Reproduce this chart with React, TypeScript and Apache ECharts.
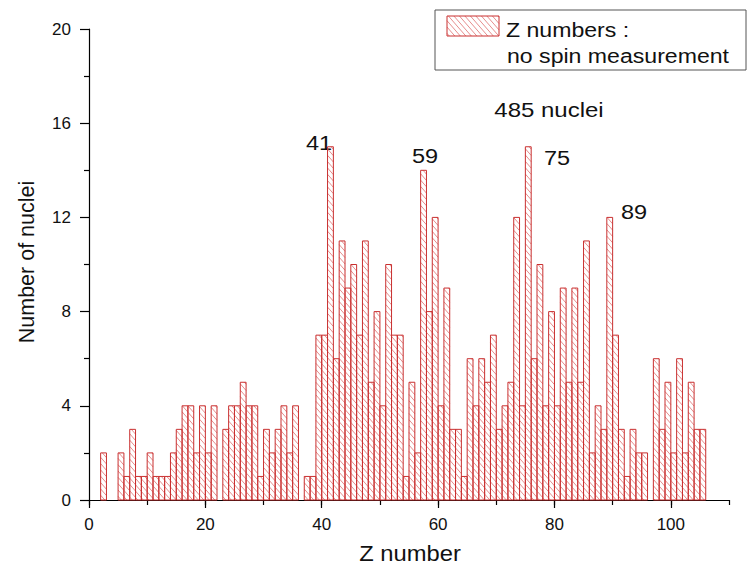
import React, { useEffect, useRef } from 'react';
import * as echarts from 'echarts';

// Z numbers (bin [Z, Z+1)) and the count of nuclei for each
const zNumbers = [
  2, 3, 4, 5, 6, 7, 8, 9, 10, 11, 12, 13, 14, 15, 16, 17, 18, 19, 20, 21,
  22, 23, 24, 25, 26, 27, 28, 29, 30, 31, 32, 33, 34, 35, 36, 37, 38, 39, 40,
  41, 42, 43, 44, 45, 46, 47, 48, 49, 50, 51, 52, 53, 54, 55, 56, 57, 58, 59, 60,
  61, 62, 63, 64, 65, 66, 67, 68, 69, 70, 71, 72, 73, 74, 75, 76, 77, 78, 79, 80,
  81, 82, 83, 84, 85, 86, 87, 88, 89, 90, 91, 92, 93, 94, 95, 96, 97, 98, 99, 100,
  101, 102, 103, 104, 105,
];
const nucleiCounts = [
  2, 0, 0, 2, 1, 3, 1, 1, 2, 1, 1, 1, 2, 3, 4, 4, 2, 4, 2, 4,
  0, 3, 4, 4, 5, 4, 4, 1, 3, 2, 3, 4, 2, 4, 0, 1, 1, 7, 7,
  15, 6, 11, 9, 10, 7, 11, 5, 8, 4, 10, 7, 7, 1, 5, 2, 14, 8, 12, 4,
  9, 3, 3, 1, 6, 4, 6, 5, 7, 3, 4, 5, 12, 4, 15, 6, 10, 4, 8, 4,
  9, 5, 9, 5, 11, 2, 4, 3, 12, 7, 3, 1, 3, 2, 2, 0, 6, 3, 5, 2,
  6, 2, 5, 3, 3,
];
const xTickLabels = [0, 20, 40, 60, 80, 100];
const yTickLabels = [0, 4, 8, 12, 16, 20];
const peakLabels = ['41', '59', '75', '89'];
const totalLabel = '485 nuclei';
const legendLines = ['Z numbers :', 'no spin measurement'];
const xTitle = 'Z number';
const yTitle = 'Number of nuclei';

const FONT = "'Liberation Sans', Arial, sans-serif";
const OUTLINE = '#c93030';
const HATCH = '#df7070';

function hatch(x0: number, y0: number, x1: number, y1: number, step = 5.5, k = 1.15) {
  const segs: number[][] = [];
  const cMin = x0 - y1 / k;
  const cMax = x1 - y0 / k;
  for (let c = Math.ceil(cMin / step) * step; c <= cMax; c += step) {
    const ya = Math.max(y0, k * (x0 - c));
    const yb = Math.min(y1, k * (x1 - c));
    if (yb > ya) segs.push([c + ya / k, ya, c + yb / k, yb]);
  }
  return segs;
}

export default function App() {
  const ref = useRef<HTMLDivElement>(null);
  useEffect(() => {
    if (!ref.current) return;
    const chart = echarts.init(ref.current, null, { renderer: 'svg' });
    const data = zNumbers.map((z, i) => [z, nucleiCounts[i]]);

    const legendX = 447, legendY = 16, legendW = 52, legendH = 20;
    const swatchChildren: any[] = hatch(legendX, legendY, legendX + legendW, legendY + legendH).map((s) => ({
      type: 'line',
      shape: { x1: s[0], y1: s[1], x2: s[2], y2: s[3] },
      style: { stroke: HATCH, lineWidth: 0.8 },
    }));
    swatchChildren.push({
      type: 'rect',
      shape: { x: legendX, y: legendY, width: legendW, height: legendH },
      style: { fill: 'none', stroke: OUTLINE, lineWidth: 1 },
    });

    const label = (text: string, x: number, y: number, align = 'center', size = 21, sx = 1.12) => ({
      type: 'text',
      x,
      y,
      scaleX: sx,
      style: { text, fontSize: size, fontFamily: FONT, fill: '#111', align, verticalAlign: 'middle' },
    });

    chart.setOption({
      animation: false,
      backgroundColor: '#fff',
      grid: { left: 89, right: 19, top: 29, bottom: 75, containLabel: false },
      xAxis: [
        {
          type: 'value',
          min: 0,
          max: 110,
          interval: 10,
          axisLine: { show: true, lineStyle: { color: '#000', width: 1.2 } },
          axisTick: { show: true, inside: false, length: 5, lineStyle: { color: '#000', width: 1.2 } },
          axisLabel: { show: false },
          splitLine: { show: false },
        },
        {
          type: 'value',
          position: 'bottom',
          min: 0,
          max: 110,
          interval: 20,
          axisLine: { show: false },
          axisTick: { show: true, inside: false, length: 8, lineStyle: { color: '#000', width: 1.2 } },
          axisLabel: {
            show: true,
            margin: 16,
            fontSize: 17,
            fontFamily: FONT,
            color: '#111',
            showMaxLabel: false,
            formatter: (v: number) => (xTickLabels.includes(v) ? String(v) : ''),
          },
          splitLine: { show: false },
        },
      ],
      yAxis: {
        type: 'value',
        min: 0,
        max: 20,
        interval: 4,
        axisLine: { show: true, lineStyle: { color: '#000', width: 1.2 } },
        axisTick: { show: true, inside: false, length: 9, lineStyle: { color: '#000', width: 1.2 } },
        minorTick: { show: true, splitNumber: 2, length: 5, lineStyle: { color: '#000', width: 1.2 } },
        axisLabel: {
          margin: 18,
          fontSize: 17,
          fontFamily: FONT,
          color: '#111',
          formatter: (v: number) => (yTickLabels.includes(v) ? String(v) : ''),
        },
        splitLine: { show: false },
      },
      series: [
        {
          type: 'custom',
          xAxisIndex: 0,
          yAxisIndex: 0,
          data,
          encode: { x: 0, y: 1 },
          renderItem: (params: any, api: any) => {
            const z = api.value(0);
            const v = api.value(1);
            if (!v) return { type: 'group', children: [] };
            const bl = api.coord([z, 0]);
            const tr = api.coord([z + 1, v]);
            const x0 = bl[0], x1 = tr[0], y0 = tr[1], y1 = bl[1];
            const children: any[] = hatch(x0, y0, x1, y1).map((s) => ({
              type: 'line',
              shape: { x1: s[0], y1: s[1], x2: s[2], y2: s[3] },
              style: { stroke: HATCH, lineWidth: 0.8 },
            }));
            children.push({
              type: 'rect',
              shape: { x: x0, y: y0, width: x1 - x0, height: y1 - y0 },
              style: { fill: 'none', stroke: OUTLINE, lineWidth: 1 },
            });
            return { type: 'group', children };
          },
        },
      ],
      graphic: [
        {
          type: 'text',
          x: 27,
          y: 262,
          rotation: Math.PI / 2,
          style: { text: yTitle, fontSize: 21.5, fontFamily: FONT, fill: '#111', align: 'center', verticalAlign: 'middle' },
        },
        label(xTitle, 410, 553, 'center', 22, 1.08),
        label(peakLabels[0], 319, 143),
        label(peakLabels[1], 425, 156),
        label(peakLabels[2], 557, 158),
        label(peakLabels[3], 634, 212),
        label(totalLabel, 549, 110, 'center', 20, 1.2),
        {
          type: 'rect',
          shape: { x: 435, y: 10, width: 311, height: 60 },
          style: { fill: '#fff', stroke: '#555', lineWidth: 1 },
        },
        { type: 'group', children: swatchChildren },
        label(legendLines[0], 506, 30, 'left', 21, 1.1),
        label(legendLines[1], 507, 56, 'left', 21, 1.1),
      ],
    });
    return () => chart.dispose();
  }, []);
  return <div ref={ref} style={{ width: 748, height: 575, position: 'absolute', left: 0, top: 0 }} />;
}
